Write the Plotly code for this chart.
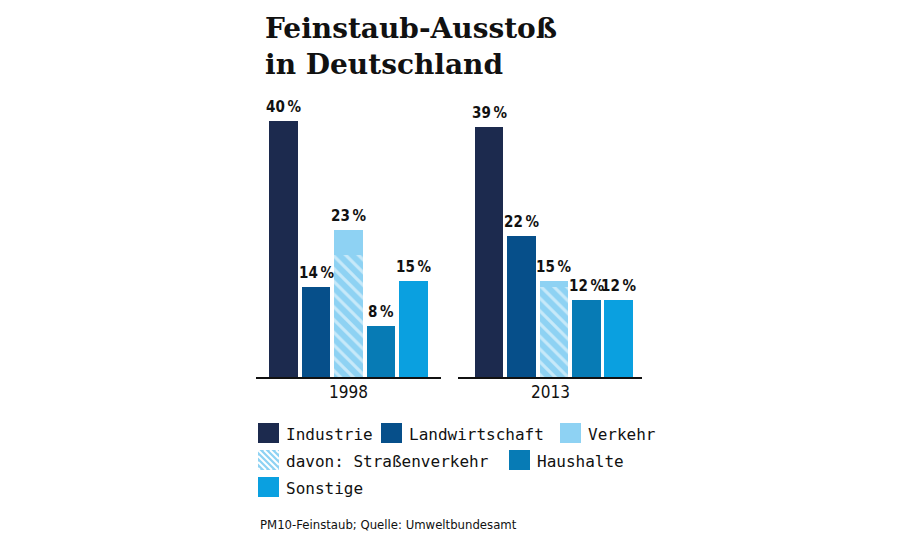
import plotly.graph_objects as go

# ---- data ----
years = ["1998", "2013"]
categories = ["Industrie", "Landwirtschaft", "Verkehr", "Haushalte", "Sonstige"]
values_1998 = [40, 14, 23, 8, 15]
values_2013 = [39, 22, 15, 12, 12]
strassen_1998 = 19   # davon: Straßenverkehr (part of Verkehr)
strassen_2013 = 14
legend_labels = ["Industrie", "Landwirtschaft", "Verkehr",
                 "davon: Straßenverkehr", "Haushalte", "Sonstige"]
title_text = "Feinstaub-Ausstoß<br>in Deutschland"
source_text = "PM10-Feinstaub; Quelle: Umweltbundesamt"

# ---- styles ----
colors = {"Industrie": "#1c2a4e", "Landwirtschaft": "#064f8a", "Verkehr": "#8ed2f3",
          "Haushalte": "#077bb5", "Sonstige": "#0aa0e0"}
hatch_bg = "#8ed2f3"
W, H = 910, 548
def px(x): return x / W
def py(y): return 1 - y / H

COND = "DejaVu Sans Condensed, Liberation Sans Narrow, Arial Narrow, sans-serif"

fig = go.Figure()
all_vals = [values_1998, values_2013]
all_str = [strassen_1998, strassen_2013]
axes = [("x", "y"), ("x2", "y2")]
annotations = []
for yi, (vals, sv, (xa, ya)) in enumerate(zip(all_vals, all_str, axes)):
    for i, (cat, v) in enumerate(zip(categories, vals)):
        fig.add_trace(go.Bar(
            x=[i], y=[v], width=0.88, xaxis=xa, yaxis=ya,
            marker=dict(color=colors[cat], line=dict(width=0)),
            showlegend=False, hoverinfo="skip"))
        annotations.append(dict(text=f"<b>{v}\u2009%</b>", x=i, y=v, xref=xa, yref=ya,
                                xanchor="center", yanchor="bottom", yshift=3,
                                showarrow=False,
                                font=dict(family=COND, size=15, color="#111111")))
    vi = categories.index("Verkehr")
    fig.add_trace(go.Bar(
        x=[vi], y=[sv], width=0.88, xaxis=xa, yaxis=ya,
        marker=dict(color=hatch_bg, line=dict(width=0),
                    pattern=dict(shape="\\", fgcolor="white", bgcolor=hatch_bg,
                                 size=9, solidity=0.35, fillmode="overlay")),
        showlegend=False, hoverinfo="skip"))

ydom = [py(377), py(89)]
common_y = dict(range=[0, 45], domain=ydom, visible=False, fixedrange=True)
fig.update_layout(
    width=W, height=H, margin=dict(l=0, r=0, t=0, b=0),
    paper_bgcolor="white", plot_bgcolor="white",
    barmode="overlay", bargap=0,
    xaxis=dict(domain=[px(256), px(441)], range=[-0.85, 4.84], showline=True,
               linecolor="#111111", linewidth=2, showticklabels=False,
               showgrid=False, zeroline=False, ticks=""),
    xaxis2=dict(domain=[px(458), px(642)], range=[-0.96, 4.72], showline=True,
                linecolor="#111111", linewidth=2, showticklabels=False,
                showgrid=False, zeroline=False, ticks=""),
    yaxis=dict(anchor="x", **common_y),
    yaxis2=dict(anchor="x2", **common_y),
    showlegend=False,
)

# title
annotations.append(dict(text=f"<b>{title_text}</b>", x=px(263), y=py(10), xref="paper", yref="paper",
                        xanchor="left", yanchor="top", align="left", showarrow=False,
                        font=dict(family="DejaVu Serif", size=28, color="#111111")))
# year labels
for yr, cx in zip(years, [px(348), px(550)]):
    annotations.append(dict(text=yr, x=cx, y=py(392), xref="paper", yref="paper",
                            xanchor="center", yanchor="middle", showarrow=False,
                            font=dict(family=COND, size=17, color="#111111")))
# legend (custom layout)
legend_pos = [(258, 433), (381, 433), (560, 433), (258, 460), (509, 460), (258, 487)]
shapes = []
for lab, (lx, ly) in zip(legend_labels, legend_pos):
    if lab == "davon: Straßenverkehr":
        shapes.append(dict(type="rect", xref="paper", yref="paper",
                           x0=px(lx), x1=px(lx + 21), y0=py(ly + 10), y1=py(ly - 10),
                           fillcolor=hatch_bg, line=dict(width=0)))
        for k in range(-3, 5):
            x0 = lx + k * 6
            xa0 = max(x0, lx)
            xa1 = min(x0 + 20, lx + 21)
            if xa1 <= xa0:
                continue
            shapes.append(dict(type="line", xref="paper", yref="paper",
                               x0=px(xa0), y0=py(ly - 10 + (xa0 - x0)),
                               x1=px(xa1), y1=py(ly - 10 + (xa1 - x0)),
                               line=dict(color="white", width=2)))
    else:
        shapes.append(dict(type="rect", xref="paper", yref="paper",
                           x0=px(lx), x1=px(lx + 21), y0=py(ly + 10), y1=py(ly - 10),
                           fillcolor=colors[lab], line=dict(width=0)))
    annotations.append(dict(text=lab, x=px(lx + 26), y=py(ly + 1), xref="paper", yref="paper",
                            xanchor="left", yanchor="middle", showarrow=False,
                            font=dict(family="DejaVu Sans Mono", size=16, color="#111111")))
annotations.append(dict(text=source_text, x=px(258), y=py(524), xref="paper", yref="paper",
                        xanchor="left", yanchor="middle", showarrow=False,
                        font=dict(family=COND, size=13, color="#111111")))

fig.update_layout(annotations=annotations, shapes=shapes)
fig.write_html("out.html")
